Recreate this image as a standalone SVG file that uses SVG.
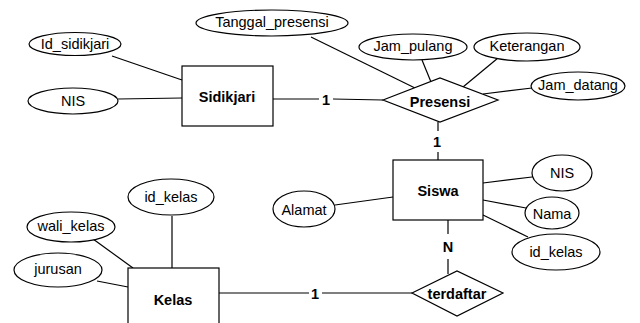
<svg xmlns="http://www.w3.org/2000/svg" width="640" height="323" viewBox="0 0 640 323">
<style>
.s{fill:#fff;stroke:#000;stroke-width:1.2}
.l{stroke:#000;stroke-width:1.2;fill:none}
text{font-family:"Liberation Sans",Arial,sans-serif;font-size:14.5px;fill:#000;text-anchor:middle;dominant-baseline:central}
.b{font-weight:bold;font-size:14.5px}
</style>
<rect width="640" height="323" fill="#fff"/>
<g id="connectors">
<line class="l" x1="112" y1="56" x2="182" y2="80"/>
<line class="l" x1="118" y1="99" x2="182" y2="98"/>
<line class="l" x1="273" y1="99" x2="319" y2="99"/>
<line class="l" x1="333" y1="99" x2="383" y2="100"/>
<line class="l" x1="311" y1="37" x2="415" y2="88"/>
<line class="l" x1="422" y1="60" x2="431" y2="82"/>
<line class="l" x1="498" y1="58" x2="463" y2="87"/>
<line class="l" x1="532" y1="88" x2="483" y2="94"/>
<line class="l" x1="438" y1="122" x2="438" y2="131"/>
<line class="l" x1="438" y1="152" x2="438" y2="160"/>
<line class="l" x1="483" y1="183" x2="532" y2="177"/>
<line class="l" x1="483" y1="200" x2="526" y2="208"/>
<line class="l" x1="483" y1="215" x2="528" y2="237"/>
<line class="l" x1="335" y1="205" x2="393" y2="197"/>
<line class="l" x1="448" y1="220" x2="448" y2="234"/>
<line class="l" x1="448" y1="259" x2="448" y2="274"/>
<line class="l" x1="219" y1="293" x2="309" y2="293"/>
<line class="l" x1="322" y1="293" x2="412" y2="293"/>
<line class="l" x1="172" y1="216" x2="172" y2="268"/>
<line class="l" x1="93" y1="239" x2="133" y2="268"/>
<line class="l" x1="97" y1="281" x2="128" y2="287"/>
<text class="b" x="326" y="100">1</text>
<text class="b" x="437" y="142">1</text>
<text class="b" x="448" y="247">N</text>
<text class="b" x="315" y="294">1</text>
</g>
<g id="Id_sidikjari"><ellipse class="s" cx="75" cy="44" rx="46" ry="11.5"/><text x="75" y="44">Id_sidikjari</text></g>
<g id="NIS_sidikjari"><ellipse class="s" cx="73" cy="101" rx="45" ry="13"/><text x="73" y="101">NIS</text></g>
<g id="Sidikjari"><rect class="s" x="182" y="66" width="91" height="60"/><text class="b" x="227" y="97">Sidikjari</text></g>
<g id="Tanggal_presensi"><ellipse class="s" cx="272" cy="23" rx="76" ry="13"/><text x="272" y="22">Tanggal_presensi</text></g>
<g id="Jam_pulang"><ellipse class="s" cx="413" cy="47" rx="54" ry="13"/><text x="413" y="46">Jam_pulang</text></g>
<g id="Keterangan"><ellipse class="s" cx="527" cy="47" rx="53" ry="14"/><text x="527" y="46">Keterangan</text></g>
<g id="Jam_datang"><ellipse class="s" cx="578" cy="86" rx="47" ry="14"/><text x="578" y="85">Jam_datang</text></g>
<g id="Presensi"><polygon class="s" points="383,100 440,78 498,100 440,122"/><text class="b" x="440" y="102">Presensi</text></g>
<g id="Siswa"><rect class="s" x="393" y="160" width="90" height="60"/><text class="b" x="438" y="191">Siswa</text></g>
<g id="NIS_siswa"><ellipse class="s" cx="562" cy="173" rx="30" ry="18"/><text x="562" y="173">NIS</text></g>
<g id="Nama"><ellipse class="s" cx="552" cy="213" rx="27" ry="16"/><text x="552" y="214">Nama</text></g>
<g id="id_kelas_siswa"><ellipse class="s" cx="556" cy="252" rx="44" ry="18"/><text x="556" y="252">id_kelas</text></g>
<g id="Alamat"><ellipse class="s" cx="304" cy="209" rx="31" ry="18"/><text x="304" y="210">Alamat</text></g>
<g id="terdaftar"><polygon class="s" points="412,293 457,271 503,293 457,316"/><text class="b" x="457" y="294">terdaftar</text></g>
<g id="Kelas"><rect class="s" x="128" y="268" width="91" height="62"/><text class="b" x="173" y="300">Kelas</text></g>
<g id="id_kelas"><ellipse class="s" cx="171" cy="197" rx="43" ry="18"/><text x="171" y="197">id_kelas</text></g>
<g id="wali_kelas"><ellipse class="s" cx="71" cy="227" rx="44" ry="15"/><text x="71" y="226">wali_kelas</text></g>
<g id="jurusan"><ellipse class="s" cx="58" cy="270" rx="44" ry="17"/><text x="58" y="269">jurusan</text></g>
</svg>
